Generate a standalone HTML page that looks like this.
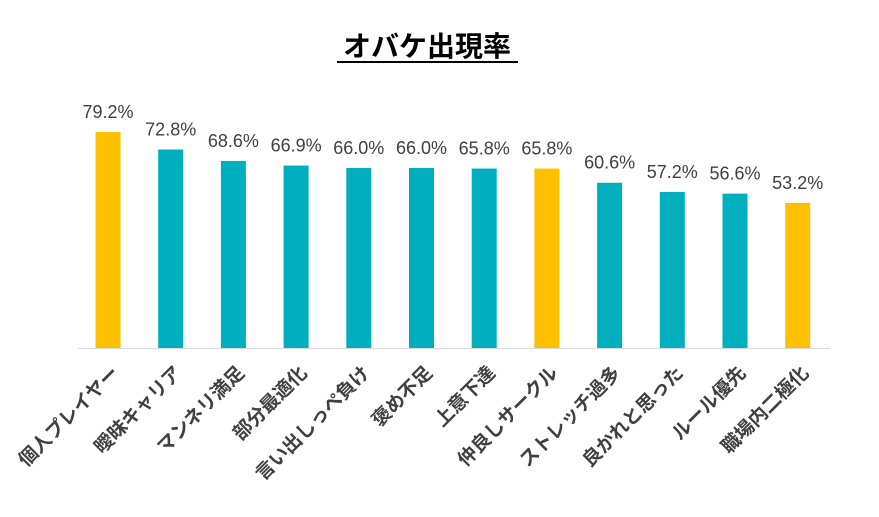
<!DOCTYPE html>
<html><head><meta charset="utf-8"><style>
html,body{margin:0;padding:0;background:#fff;}
svg{display:block;font-family:"Liberation Sans","Noto Sans CJK JP",sans-serif;}
</style></head><body>
<svg id="chart" width="879" height="517"></svg>
<script>
const categories=["個人プレイヤー","曖昧キャリア","マンネリ満足","部分最適化","言い出しっぺ負け","褒め不足","上意下達","仲良しサークル","ストレッチ過多","良かれと思った","ルール優先","職場内二極化"];
const values=[79.2,72.8,68.6,66.9,66.0,66.0,65.8,65.8,60.6,57.2,56.6,53.2];
const highlight=[true,false,false,false,false,false,false,true,false,false,false,true];
const NS="http://www.w3.org/2000/svg";
const svg=document.getElementById('chart');
const baseY=348, pxPer=2.727, x0=108, step=62.7, bw=25;
const yScale=v=>baseY-v*pxPer;
const xScale=i=>x0+i*step;
function mk(t,a){const e=document.createElementNS(NS,t);for(const k in a)e.setAttribute(k,a[k]);svg.appendChild(e);return e;}
const title=mk('text',{x:427,y:56,'text-anchor':'middle','font-size':28,'font-weight':'bold',fill:'#000'});
title.textContent="オバケ出現率";


const ul=mk('line',{x1:337,x2:518,y1:62,y2:62,stroke:'#000','stroke-width':2});


const axis=mk('line',{x1:78,x2:830,y1:baseY+0.5,y2:baseY+0.5,stroke:'#d9d9d9','stroke-width':1});


values.forEach((v,i)=>{
  const cx=xScale(i), top=yScale(v);
  const r=mk('rect',{x:cx-bw/2,y:top,width:bw,height:baseY-top,fill:highlight[i]?'#FFC000':'#00AFBE'});
  
  
  const t=mk('text',{x:cx,y:top-14,'text-anchor':'middle','font-size':18,fill:'#404040'});
  t.textContent=v.toFixed(1)+'%';
  
  
  const c=mk('text',{x:0,y:0,'text-anchor':'end','font-size':19,'font-weight':'bold',fill:'#404040',transform:`translate(${cx+12},${baseY+26}) rotate(-45)`});
  c.textContent=categories[i];
  
  
});
</script>
</body></html>
